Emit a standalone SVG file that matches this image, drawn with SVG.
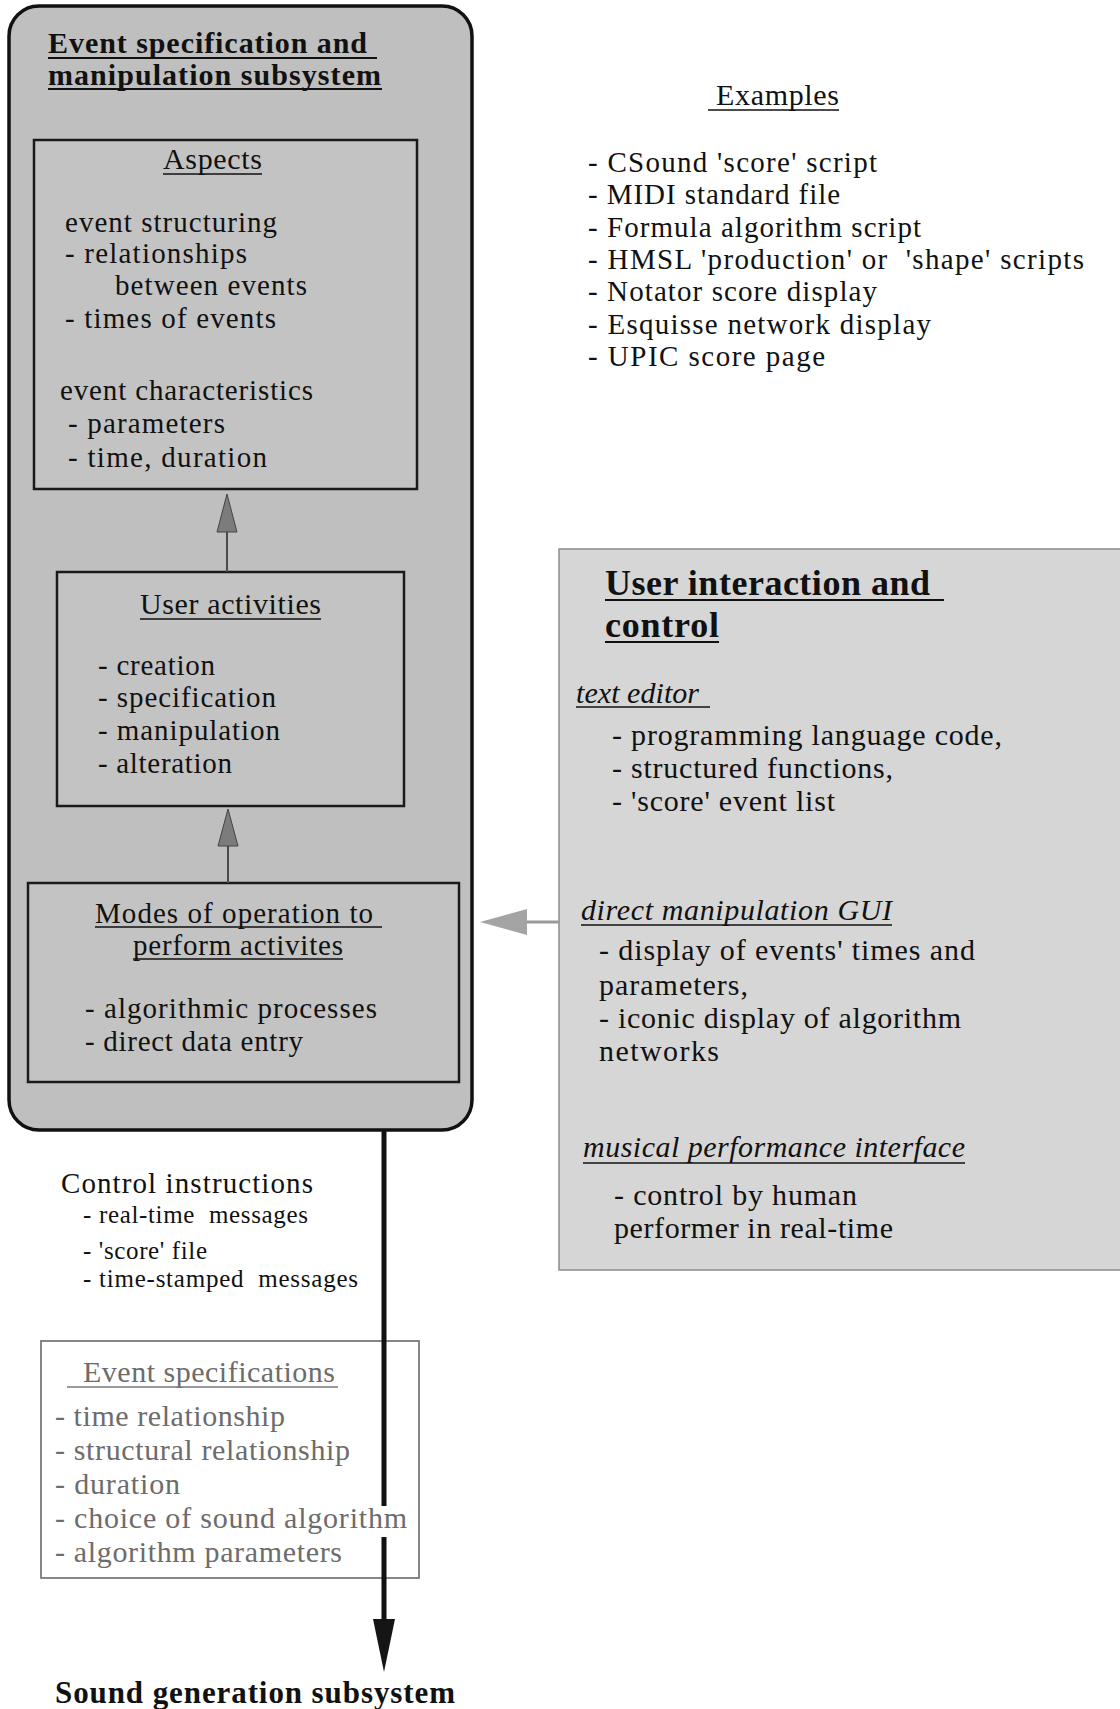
<svg xmlns="http://www.w3.org/2000/svg" width="1120" height="1709" viewBox="0 0 1120 1709">
  <style>
    text { font-family: "Liberation Serif", "Times New Roman", serif; fill: #111; }
    .b { font-weight: bold; }
    .i { font-style: italic; }
    .f29 { font-size: 29px; }
    .f30 { font-size: 30px; }
    .f31 { font-size: 31px; }
    .f25 { font-size: 25px; }
    .f36 { font-size: 36px; }
    .grey { fill: #6c6c6c; }
    .box { fill: #c3c3c3; stroke: #1a1a1a; stroke-width: 2.5; }
    .ul { stroke: #111; stroke-width: 1.6; }
    .ulb { stroke: #111; stroke-width: 2.2; }
    .ulg { stroke: #777; stroke-width: 1.6; }
  </style>
  <rect width="1120" height="1709" fill="#ffffff"/>

  <!-- Event specification and manipulation subsystem (outer container) -->
  <g id="event-subsystem">
    <rect x="9" y="6" width="463" height="1124" rx="30" ry="30" fill="#bfbfbf" stroke="#111" stroke-width="3.5"/>
    <text class="b f30" x="48" y="53" textLength="319">Event specification and</text>
    <text class="b f30" x="48" y="85" textLength="333">manipulation subsystem</text>
    <line class="ulb" x1="48" y1="58" x2="377" y2="58"/>
    <line class="ulb" x1="48" y1="89" x2="382" y2="89"/>
  </g>

  <!-- Aspects -->
  <g id="aspects">
    <rect class="box" x="34" y="140" width="383" height="349"/>
    <text class="f30" x="163" y="169" textLength="99">Aspects</text>
    <line class="ul" x1="163" y1="174" x2="262" y2="174"/>
    <text class="f29" x="65" y="232" textLength="212">event structuring</text>
    <text class="f29" x="65" y="263" textLength="182">- relationships</text>
    <text class="f29" x="115" y="295" textLength="192">between events</text>
    <text class="f29" x="65" y="328" textLength="211">- times of events</text>
    <text class="f29" x="60" y="400" textLength="253">event characteristics</text>
    <text class="f29" x="68" y="433" textLength="157">- parameters</text>
    <text class="f29" x="68" y="467" textLength="199">- time, duration</text>
  </g>

  <!-- User activities -->
  <g id="user-activities">
    <rect class="box" x="57" y="572" width="347" height="234"/>
    <text class="f30" x="140" y="614" textLength="181">User activities</text>
    <line class="ul" x1="140" y1="619" x2="321" y2="619"/>
    <text class="f29" x="98" y="675" textLength="117">- creation</text>
    <text class="f29" x="98" y="707" textLength="178">- specification</text>
    <text class="f29" x="98" y="740" textLength="182">- manipulation</text>
    <text class="f29" x="98" y="773" textLength="134">- alteration</text>
  </g>

  <!-- Modes of operation -->
  <g id="modes">
    <rect class="box" x="28" y="883" width="431" height="199"/>
    <text class="f29" x="95" y="923" textLength="278">Modes of operation to</text>
    <line class="ul" x1="95" y1="927" x2="382" y2="927"/>
    <text class="f29" x="133" y="955" textLength="210">perform activites</text>
    <line class="ul" x1="133" y1="959" x2="343" y2="959"/>
    <text class="f29" x="85" y="1018" textLength="292">- algorithmic processes</text>
    <text class="f29" x="85" y="1051" textLength="218">- direct data entry</text>
  </g>

  <!-- Examples -->
  <g id="examples">
    <text class="f30" x="716" y="105" textLength="123">Examples</text>
    <line class="ul" x1="708" y1="110" x2="839" y2="110"/>
    <text class="f29" x="588" y="172" textLength="289">- CSound 'score' script</text>
    <text class="f29" x="588" y="204" textLength="252">- MIDI standard file</text>
    <text class="f29" x="588" y="237" textLength="333">- Formula algorithm script</text>
    <text class="f29" x="588" y="269" textLength="496">- HMSL 'production' or &#160;'shape' scripts</text>
    <text class="f29" x="588" y="301" textLength="289">- Notator score display</text>
    <text class="f29" x="588" y="334" textLength="343">- Esquisse network display</text>
    <text class="f29" x="588" y="366" textLength="237">- UPIC score page</text>
  </g>

  <!-- User interaction and control -->
  <g id="user-interaction">
    <rect x="559" y="549" width="565" height="721" fill="#d6d6d6" stroke="#8c8c8c" stroke-width="1.5"/>
    <text class="b f36" x="605" y="595" textLength="325">User interaction and</text>
    <line class="ulb" x1="605" y1="600" x2="944" y2="600"/>
    <text class="b f36" x="605" y="637" textLength="114">control</text>
    <line class="ulb" x1="605" y1="642" x2="719" y2="642"/>

    <text class="i f30" x="576" y="703" textLength="123">text editor</text>
    <line class="ul" x1="576" y1="707" x2="710" y2="707"/>
    <text class="f30" x="612" y="745" textLength="390">- programming language code,</text>
    <text class="f30" x="612" y="778" textLength="281">- structured functions,</text>
    <text class="f30" x="612" y="811" textLength="223">- 'score' event list</text>

    <text class="i f30" x="581" y="920" textLength="311">direct manipulation GUI</text>
    <line class="ul" x1="581" y1="925" x2="892" y2="925"/>
    <text class="f30" x="599" y="960" textLength="376">- display of events' times and</text>
    <text class="f30" x="599" y="995" textLength="149">parameters,</text>
    <text class="f30" x="599" y="1028" textLength="362">- iconic display of algorithm</text>
    <text class="f30" x="599" y="1061" textLength="120">networks</text>

    <text class="i f30" x="583" y="1157" textLength="382">musical performance interface</text>
    <line class="ul" x1="583" y1="1163" x2="965" y2="1163"/>
    <text class="f30" x="614" y="1205" textLength="243">- control by human</text>
    <text class="f30" x="614" y="1238" textLength="279">performer in real-time</text>
  </g>

  <!-- Control instructions label -->
  <g id="control-instructions">
    <text class="f29" x="61" y="1193" textLength="252">Control instructions</text>
    <text class="f25" x="83" y="1223" textLength="225">- real-time &#160;messages</text>
    <text class="f25" x="83" y="1259" textLength="124">- 'score' file</text>
    <text class="f25" x="83" y="1287" textLength="275">- time-stamped &#160;messages</text>
  </g>

  <!-- Event specifications -->
  <g id="event-specifications">
    <rect x="41" y="1341" width="378" height="237" fill="#ffffff" stroke="#7a7a7a" stroke-width="1.8"/>
    <text class="f30 grey" x="83" y="1382" textLength="252">Event specifications</text>
    <line class="ulg" x1="67" y1="1387" x2="338" y2="1387"/>
    <text class="f30 grey" x="55" y="1426" textLength="230">- time relationship</text>
    <text class="f30 grey" x="55" y="1460" textLength="295">- structural relationship</text>
    <text class="f30 grey" x="55" y="1494" textLength="125">- duration</text>
    <text class="f30 grey" x="55" y="1528" textLength="352">- choice of sound algorithm</text>
    <text class="f30 grey" x="55" y="1562" textLength="287">- algorithm parameters</text>
  </g>

  <!-- Sound generation subsystem label -->
  <g id="sound-generation">
    <text class="b f31" x="55" y="1703" textLength="400">Sound generation subsystem</text>
  </g>

  <!-- Connectors -->
  <g id="connectors">
    <!-- user activities -> aspects -->
    <line x1="227" y1="572" x2="227" y2="530" stroke="#4a4a4a" stroke-width="2"/>
    <polygon points="227,494 217,532 237,532" fill="#7c7c7c" stroke="#444" stroke-width="1"/>
    <!-- modes -> user activities -->
    <line x1="228" y1="883" x2="228" y2="844" stroke="#4a4a4a" stroke-width="2"/>
    <polygon points="228,809 218,846 238,846" fill="#7c7c7c" stroke="#444" stroke-width="1"/>
    <!-- user interaction -> subsystem -->
    <line x1="559" y1="922" x2="525" y2="922" stroke="#9a9a9a" stroke-width="3"/>
    <polygon points="480,922 527,909 527,935" fill="#a4a4a4"/>
    <!-- subsystem -> sound generation -->
    <line x1="384" y1="1130" x2="384" y2="1506" stroke="#111" stroke-width="5"/>
    <line x1="384" y1="1537" x2="384" y2="1622" stroke="#111" stroke-width="5"/>
    <polygon points="384,1672 373,1619 395,1619" fill="#151515"/>
  </g>
</svg>
